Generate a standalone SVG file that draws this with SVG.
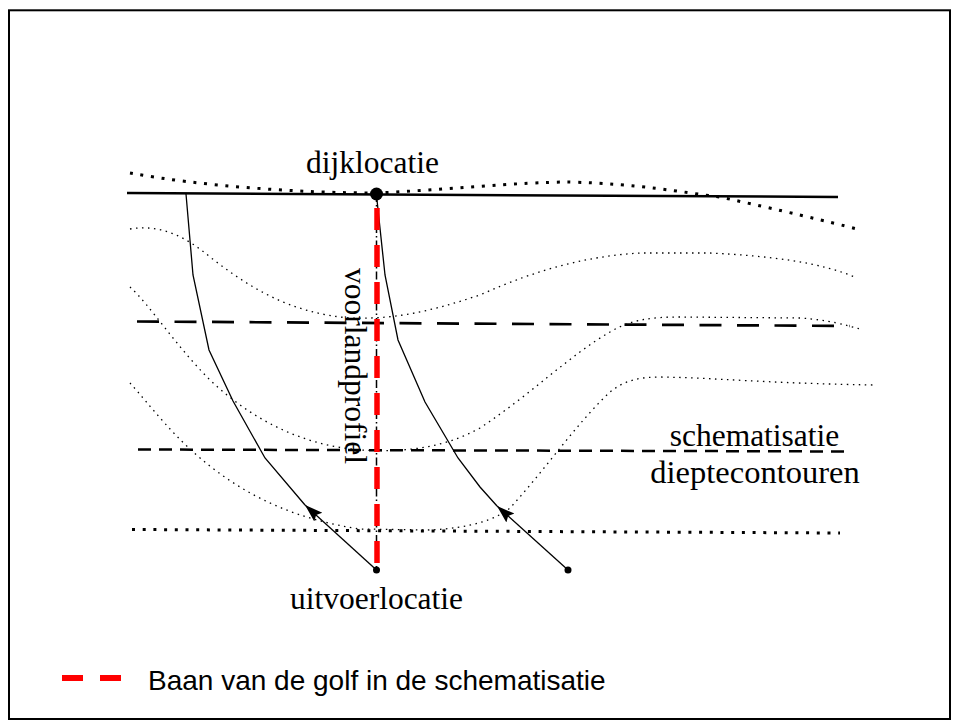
<svg xmlns="http://www.w3.org/2000/svg" width="959" height="727" viewBox="0 0 959 727">
  <style>
    .serif { font-family: "Liberation Serif", "Times New Roman", serif; font-size: 31.5px; fill: #000; }
    .sans { font-family: "Liberation Sans", Arial, sans-serif; font-size: 28px; fill: #000; }
    .contour-thick { fill: none; stroke: #000; stroke-width: 3; stroke-dasharray: 3 7.7; }
    .contour-thin { fill: none; stroke: #000; stroke-width: 1.3; stroke-dasharray: 1.5 4.5; }
    .ray { fill: none; stroke: #000; stroke-width: 1.3; }
    .schema-long { stroke: #000; stroke-width: 2.7; stroke-dasharray: 22 15.5; }
    .schema-short { stroke: #000; stroke-width: 2.5; stroke-dasharray: 13 8; }
    .profile-axis { stroke: #000; stroke-width: 1.5; stroke-dasharray: 8 3 1.5 3; }
    .wave-path { stroke: #ff0000; stroke-width: 5.5; stroke-dasharray: 22 15; }
  </style>
  <defs>
    <marker id="arrow" markerUnits="userSpaceOnUse" markerWidth="22" markerHeight="16" refX="18" refY="7" orient="auto">
      <path d="M0,1 L18,7 L0,13 L3,7 z" fill="#000"/>
    </marker>
  </defs>

  <rect x="9" y="10.3" width="941" height="708.7" fill="#fff" stroke="#000" stroke-width="2"/>

  <!-- depth contours -->
  <g id="contours">
    <path class="contour-thick" d="M130,173 C200,186 300,193 377,193 C440,190 520,182 570,182 C640,184 680,192 720,197 C780,210 830,222 857,229"/>
    <path class="contour-thin" d="M130,229 C160,224 185,236 210,257 C250,288 290,313 350,318 C400,320 440,308 480,295 C540,268 590,256 640,253 L710,253 C770,256 820,262 857,278"/>
    <path class="contour-thin" d="M130,287 C150,305 175,345 210,380 C250,418 300,445 360,450 C400,452 440,450 480,428 C530,395 570,355 610,332 C630,320 650,317 680,317 L800,318 C830,320 845,325 860,329"/>
    <path class="contour-thin" d="M130,383 C150,405 175,440 215,470 C255,500 300,520 360,529 L430,530 C470,528 495,520 510,508 C545,470 575,425 610,392 C625,380 640,377 660,377 C720,378 760,383 873,385"/>
  </g>

  <!-- schematised depth lines -->
  <g id="schematisation">
    <line class="schema-long" x1="137" y1="321.5" x2="850" y2="326"/>
    <line class="schema-short" x1="138" y1="449.5" x2="852" y2="451.5"/>
    <line class="contour-thick" x1="132" y1="529.5" x2="840" y2="533"/>
  </g>

  <!-- coastline -->
  <g id="coast">
    <line x1="127" y1="193" x2="838" y2="197" stroke="#000" stroke-width="2.5"/>
  </g>

  <!-- wave rays -->
  <g id="connectors">
    <polyline class="ray" points="186,194 193,275 209,350 233,401 265,458 305,505"/>
    <line class="ray" x1="376.5" y1="570" x2="305" y2="505" marker-end="url(#arrow)"/>
    <polyline class="ray" points="377,200 385,275 398,340 425,402 458,458 480,487 497,506"/>
    <line class="ray" x1="568" y1="570" x2="497" y2="506" marker-end="url(#arrow)"/>
    <line class="profile-axis" x1="376.5" y1="194" x2="376.5" y2="570"/>
    <line class="wave-path" x1="377" y1="208" x2="377" y2="570"/>
  </g>

  <g id="dijklocatie">
    <circle cx="376.5" cy="194" r="6.5" fill="#000"/>
    <text class="serif" x="372.5" y="173" text-anchor="middle">dijklocatie</text>
  </g>

  <g id="uitvoerlocatie">
    <circle cx="376.5" cy="570" r="3.5" fill="#000"/>
    <text class="serif" x="376.5" y="609" text-anchor="middle">uitvoerlocatie</text>
  </g>

  <g id="ray-start-2">
    <circle cx="568" cy="570" r="3.5" fill="#000"/>
  </g>

  <g id="voorlandprofiel">
    <text class="serif" transform="translate(345,366) rotate(90)" text-anchor="middle">voorlandprofiel</text>
  </g>

  <g id="contour-label">
    <text class="serif" x="754.5" y="446" text-anchor="middle">schematisatie</text>
    <text class="serif" x="755" y="483" text-anchor="middle" style="font-size:32.5px">dieptecontouren</text>
  </g>

  <g id="legend">
    <line x1="62" y1="678" x2="121" y2="678" stroke="#ff0000" stroke-width="6" stroke-dasharray="21 17"/>
    <text class="sans" x="148" y="690">Baan van de golf in de schematisatie</text>
  </g>
</svg>
